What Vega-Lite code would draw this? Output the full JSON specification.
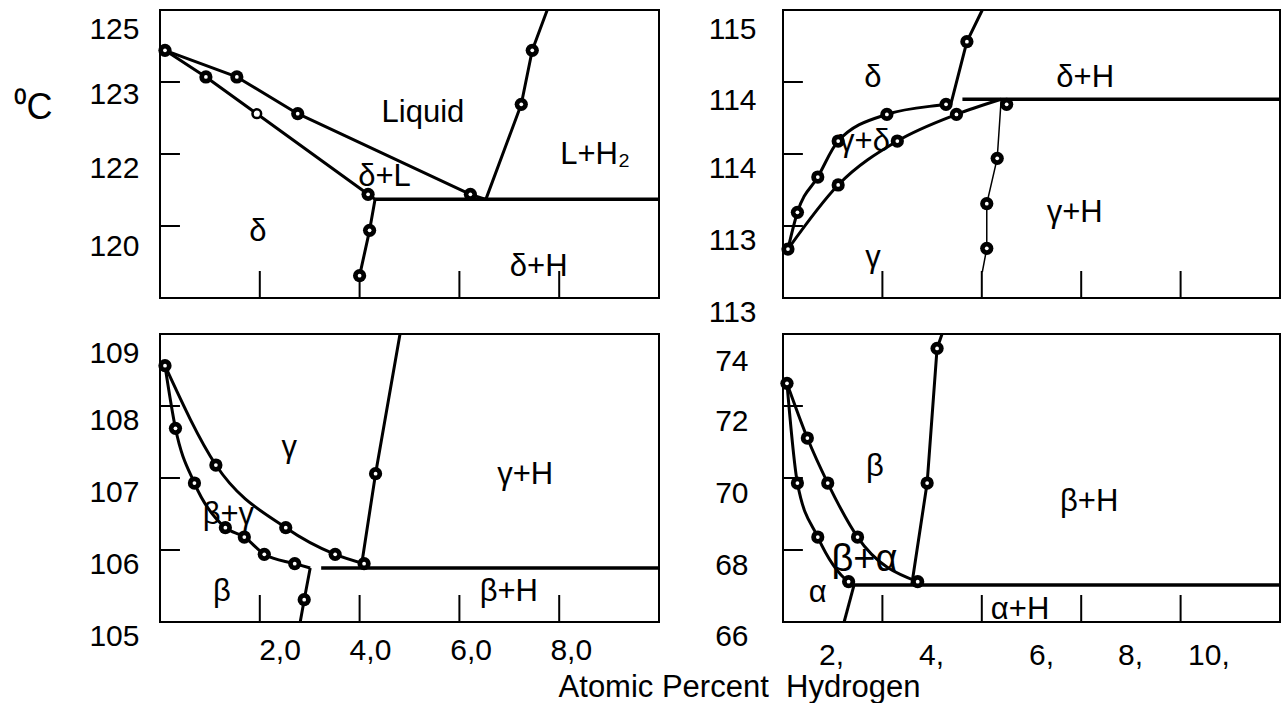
{
 "$schema": "https://vega.github.io/schema/vega-lite/v6.json",
 "background": "white",
 "padding": {"left": 12, "top": 7, "right": 0, "bottom": 0},
 "config": {
  "view": {"stroke": "black", "strokeWidth": 2},
  "font": "Liberation Sans",
  "axis": {"grid": false, "ticks": false, "tickSize": 0, "domain": false, "labelFont": "Liberation Sans", "labelFontSize": 30, "labelColor": "black", "labelOverlap": false, "labelFlush": false, "titleFont": "Liberation Sans", "titleColor": "black", "titleFontWeight": "normal"},
  "text": {"font": "Liberation Sans", "fontSize": 31, "color": "black"},
  "line": {"strokeJoin": "round", "strokeCap": "butt"}
 },
 "datasets": {
  "tl_ticks": [
   {"x": 2, "x2": 2, "y": 120, "y2": 120.375}, {"x": 4, "x2": 4, "y": 120, "y2": 120.375},
   {"x": 6, "x2": 6, "y": 120, "y2": 120.375}, {"x": 8, "x2": 8, "y": 120, "y2": 120.375},
   {"x": 0, "x2": 0.4, "y": 123, "y2": 123}, {"x": 0, "x2": 0.4, "y": 122, "y2": 122}, {"x": 0, "x2": 0.4, "y": 121, "y2": 121}
  ],
  "tl_thick": [{"id": "eutectic", "i": 1, "x": 4.31, "y": 121.37}, {"id": "eutectic", "i": 2, "x": 10, "y": 121.37}],
  "tl_lines": [
   {"id": "liquidus", "i": 1, "x": 0.10, "y": 123.44}, {"id": "liquidus", "i": 2, "x": 1.54, "y": 123.07},
   {"id": "liquidus", "i": 3, "x": 2.76, "y": 122.56}, {"id": "liquidus", "i": 4, "x": 6.22, "y": 121.44},
   {"id": "liquidus", "i": 5, "x": 6.53, "y": 121.37},
   {"id": "solidus", "i": 1, "x": 0.10, "y": 123.44}, {"id": "solidus", "i": 2, "x": 0.92, "y": 123.07},
   {"id": "solidus", "i": 3, "x": 1.94, "y": 122.56}, {"id": "solidus", "i": 4, "x": 4.17, "y": 121.44},
   {"id": "solidus", "i": 5, "x": 4.31, "y": 121.37},
   {"id": "solvus", "i": 1, "x": 4.31, "y": 121.37}, {"id": "solvus", "i": 2, "x": 4.20, "y": 120.94},
   {"id": "solvus", "i": 3, "x": 4.00, "y": 120.31},
   {"id": "h2", "i": 1, "x": 6.53, "y": 121.37}, {"id": "h2", "i": 2, "x": 7.24, "y": 122.69},
   {"id": "h2", "i": 3, "x": 7.46, "y": 123.44}, {"id": "h2", "i": 4, "x": 7.76, "y": 124.0}
  ],
  "tl_pts": [
   {"x": 0.10, "y": 123.44}, {"x": 1.54, "y": 123.07}, {"x": 2.76, "y": 122.56}, {"x": 6.22, "y": 121.44},
   {"x": 0.92, "y": 123.07}, {"x": 4.17, "y": 121.44}, {"x": 4.20, "y": 120.94}, {"x": 4.00, "y": 120.31},
   {"x": 7.24, "y": 122.69}, {"x": 7.46, "y": 123.44}
  ],
  "tl_open": [{"x": 1.94, "y": 122.56}],
  "tl_labels": [
   {"label": "Liquid", "x": 5.27, "y": 122.57}, {"label": "L+H₂", "x": 8.72, "y": 121.99},
   {"label": "δ+L", "x": 4.5, "y": 121.68}, {"label": "δ", "x": 1.96, "y": 120.92},
   {"label": "δ+H", "x": 7.59, "y": 120.43}
  ],
  "tr_ticks": [
   {"x": 2, "x2": 2, "y": 112, "y2": 112.375}, {"x": 4, "x2": 4, "y": 112, "y2": 112.375},
   {"x": 6, "x2": 6, "y": 112, "y2": 112.375}, {"x": 8, "x2": 8, "y": 112, "y2": 112.375},
   {"x": 0, "x2": 0.4, "y": 115, "y2": 115}, {"x": 0, "x2": 0.4, "y": 114, "y2": 114}, {"x": 0, "x2": 0.4, "y": 113, "y2": 113}
  ],
  "tr_thick": [{"id": "eutectoid", "i": 1, "x": 3.61, "y": 114.76}, {"id": "eutectoid", "i": 2, "x": 10, "y": 114.76}],
  "tr_curves": [
   {"id": "upper", "i": 1, "x": 0.10, "y": 112.68}, {"id": "upper", "i": 2, "x": 0.29, "y": 113.19},
   {"id": "upper", "i": 3, "x": 0.70, "y": 113.68}, {"id": "upper", "i": 4, "x": 1.11, "y": 114.18},
   {"id": "upper", "i": 5, "x": 2.09, "y": 114.55}, {"id": "upper", "i": 6, "x": 3.28, "y": 114.69},
   {"id": "upper", "i": 7, "x": 3.38, "y": 114.70},
   {"id": "lower", "i": 1, "x": 0.10, "y": 112.68}, {"id": "lower", "i": 2, "x": 1.11, "y": 113.57},
   {"id": "lower", "i": 3, "x": 2.30, "y": 114.18}, {"id": "lower", "i": 4, "x": 3.49, "y": 114.55},
   {"id": "lower", "i": 5, "x": 4.39, "y": 114.76}
  ],
  "tr_lines": [
   {"id": "delta", "i": 1, "x": 3.38, "y": 114.70}, {"id": "delta", "i": 2, "x": 3.70, "y": 115.56},
   {"id": "delta", "i": 3, "x": 4.01, "y": 116.0}
  ],
  "tr_thin": [
   {"id": "gamma", "i": 1, "x": 4.39, "y": 114.76}, {"id": "gamma", "i": 2, "x": 4.31, "y": 113.94},
   {"id": "gamma", "i": 3, "x": 4.10, "y": 113.31}, {"id": "gamma", "i": 4, "x": 4.10, "y": 112.69},
   {"id": "gamma", "i": 5, "x": 4.01, "y": 112.36}
  ],
  "tr_pts": [
   {"x": 0.10, "y": 112.68}, {"x": 0.29, "y": 113.19}, {"x": 0.70, "y": 113.68}, {"x": 1.11, "y": 114.18},
   {"x": 2.09, "y": 114.55}, {"x": 3.28, "y": 114.69}, {"x": 3.70, "y": 115.56}, {"x": 1.11, "y": 113.57},
   {"x": 2.30, "y": 114.18}, {"x": 3.49, "y": 114.55}, {"x": 4.50, "y": 114.69}, {"x": 4.31, "y": 113.94},
   {"x": 4.10, "y": 113.31}, {"x": 4.10, "y": 112.69}
  ],
  "tr_labels": [
   {"label": "δ", "x": 1.81, "y": 115.06}, {"label": "δ+H", "x": 6.08, "y": 115.06},
   {"label": "γ+δ", "x": 1.64, "y": 114.17}, {"label": "γ+H", "x": 5.87, "y": 113.18},
   {"label": "γ", "x": 1.81, "y": 112.56}
  ],
  "bl_ticks": [
   {"x": 2, "x2": 2, "y": 105, "y2": 105.375}, {"x": 4, "x2": 4, "y": 105, "y2": 105.375},
   {"x": 6, "x2": 6, "y": 105, "y2": 105.375}, {"x": 8, "x2": 8, "y": 105, "y2": 105.375},
   {"x": 0, "x2": 0.4, "y": 108, "y2": 108}, {"x": 0, "x2": 0.4, "y": 107, "y2": 107}, {"x": 0, "x2": 0.4, "y": 106, "y2": 106}
  ],
  "bl_thick": [{"id": "eutectoid", "i": 1, "x": 3.23, "y": 105.75}, {"id": "eutectoid", "i": 2, "x": 10, "y": 105.75}],
  "bl_curves": [
   {"id": "inner", "i": 1, "x": 0.10, "y": 108.56}, {"id": "inner", "i": 2, "x": 0.31, "y": 107.69},
   {"id": "inner", "i": 3, "x": 0.69, "y": 106.93}, {"id": "inner", "i": 4, "x": 1.31, "y": 106.31},
   {"id": "inner", "i": 5, "x": 1.69, "y": 106.18}, {"id": "inner", "i": 6, "x": 2.09, "y": 105.94},
   {"id": "inner", "i": 7, "x": 2.70, "y": 105.81}, {"id": "inner", "i": 8, "x": 3.01, "y": 105.75},
   {"id": "outer", "i": 1, "x": 0.10, "y": 108.56}, {"id": "outer", "i": 2, "x": 1.12, "y": 107.18},
   {"id": "outer", "i": 3, "x": 2.52, "y": 106.31}, {"id": "outer", "i": 4, "x": 3.51, "y": 105.94},
   {"id": "outer", "i": 5, "x": 4.09, "y": 105.81}
  ],
  "bl_lines": [
   {"id": "beta", "i": 1, "x": 3.01, "y": 105.75}, {"id": "beta", "i": 2, "x": 2.89, "y": 105.31},
   {"id": "beta", "i": 3, "x": 2.81, "y": 105.0},
   {"id": "gamma", "i": 1, "x": 4.03, "y": 105.75}, {"id": "gamma", "i": 2, "x": 4.32, "y": 107.06},
   {"id": "gamma", "i": 3, "x": 4.81, "y": 109.0}
  ],
  "bl_pts": [
   {"x": 0.10, "y": 108.56}, {"x": 0.31, "y": 107.69}, {"x": 0.69, "y": 106.93}, {"x": 1.31, "y": 106.31},
   {"x": 1.69, "y": 106.18}, {"x": 2.09, "y": 105.94}, {"x": 2.70, "y": 105.81}, {"x": 1.12, "y": 107.18},
   {"x": 2.52, "y": 106.31}, {"x": 3.51, "y": 105.94}, {"x": 4.09, "y": 105.81}, {"x": 2.89, "y": 105.31},
   {"x": 4.32, "y": 107.06}
  ],
  "bl_labels": [
   {"label": "γ", "x": 2.59, "y": 107.42}, {"label": "γ+H", "x": 7.32, "y": 107.04},
   {"label": "β+γ", "x": 1.37, "y": 106.49}, {"label": "β", "x": 1.24, "y": 105.42},
   {"label": "β+H", "x": 6.99, "y": 105.42}
  ],
  "br_ticks": [
   {"x": 2, "x2": 2, "y": 66, "y2": 66.75}, {"x": 4, "x2": 4, "y": 66, "y2": 66.75},
   {"x": 6, "x2": 6, "y": 66, "y2": 66.75}, {"x": 8, "x2": 8, "y": 66, "y2": 66.75},
   {"x": 0, "x2": 0.4, "y": 72, "y2": 72}, {"x": 0, "x2": 0.4, "y": 70, "y2": 70}, {"x": 0, "x2": 0.4, "y": 68, "y2": 68}
  ],
  "br_thick": [{"id": "eutectoid", "i": 1, "x": 1.43, "y": 67.03}, {"id": "eutectoid", "i": 2, "x": 10, "y": 67.03}],
  "br_curves": [
   {"id": "inner", "i": 1, "x": 0.08, "y": 72.63}, {"id": "inner", "i": 2, "x": 0.29, "y": 69.86},
   {"id": "inner", "i": 3, "x": 0.70, "y": 68.36}, {"id": "inner", "i": 4, "x": 1.32, "y": 67.12},
   {"id": "inner", "i": 5, "x": 1.43, "y": 67.03},
   {"id": "outer", "i": 1, "x": 0.08, "y": 72.63}, {"id": "outer", "i": 2, "x": 0.49, "y": 71.11},
   {"id": "outer", "i": 3, "x": 0.90, "y": 69.86}, {"id": "outer", "i": 4, "x": 1.50, "y": 68.36},
   {"id": "outer", "i": 5, "x": 2.71, "y": 67.12}
  ],
  "br_lines": [
   {"id": "alpha", "i": 1, "x": 1.43, "y": 67.03}, {"id": "alpha", "i": 2, "x": 1.23, "y": 66.0},
   {"id": "beta", "i": 1, "x": 2.59, "y": 67.03}, {"id": "beta", "i": 2, "x": 2.90, "y": 69.86},
   {"id": "beta", "i": 3, "x": 3.10, "y": 73.60}, {"id": "beta", "i": 4, "x": 3.20, "y": 74.0}
  ],
  "br_pts": [
   {"x": 0.08, "y": 72.63}, {"x": 0.29, "y": 69.86}, {"x": 0.70, "y": 68.36}, {"x": 1.32, "y": 67.12},
   {"x": 0.49, "y": 71.11}, {"x": 0.90, "y": 69.86}, {"x": 1.50, "y": 68.36}, {"x": 2.71, "y": 67.12},
   {"x": 2.90, "y": 69.86}, {"x": 3.10, "y": 73.60}
  ],
  "br_labels": [
   {"label": "β", "x": 1.85, "y": 70.31}, {"label": "β+H", "x": 6.16, "y": 69.34},
   {"label": "α", "x": 0.70, "y": 66.81}, {"label": "α+H", "x": 4.77, "y": 66.33}
  ],
  "br_big": [{"label": "β+α", "x": 1.64, "y": 67.72}]
 },
 "columns": 2,
 "spacing": {"row": 36, "column": 124},
 "bounds": "flush",
 "concat": [
  {
   "width": 499, "height": 288,
   "encoding": {
    "x": {"field": "x", "type": "quantitative", "scale": {"domain": [0, 10], "nice": false, "zero": false}, "axis": null},
    "y": {"field": "y", "type": "quantitative", "scale": {"domain": [120, 124], "nice": false, "zero": false},
     "axis": {"values": [123.965, 123.0625, 122.035, 120.951], "labelExpr": "datum.value > 123.5 ? '125' : datum.value > 122.5 ? '123' : datum.value > 121.5 ? '122' : '120'", "labelOffset": 17, "labelPadding": 21,
      "title": "⁰C", "titleAngle": 0, "titleAlign": "left", "titleBaseline": "alphabetic", "titleX": -147, "titleY": 108, "titleFontSize": 36}}
   },
   "layer": [
    {"data": {"name": "tl_ticks"}, "mark": {"type": "rule", "color": "black", "strokeWidth": 2}, "encoding": {"x2": {"field": "x2"}, "y2": {"field": "y2"}}},
    {"data": {"name": "tl_thick"}, "mark": {"type": "line", "color": "black", "strokeWidth": 3.5}, "encoding": {"detail": {"field": "id", "type": "nominal"}, "order": {"field": "i", "type": "quantitative"}}},
    {"data": {"name": "tl_lines"}, "mark": {"type": "line", "color": "black", "strokeWidth": 3}, "encoding": {"detail": {"field": "id", "type": "nominal"}, "order": {"field": "i", "type": "quantitative"}}},
    {"data": {"name": "tl_pts"}, "mark": {"type": "point", "shape": "circle", "filled": true, "color": "black", "size": 175, "opacity": 1}},
    {"data": {"name": "tl_pts"}, "mark": {"type": "point", "shape": "circle", "filled": true, "color": "white", "size": 14, "opacity": 1}},
    {"data": {"name": "tl_open"}, "mark": {"type": "point", "shape": "circle", "fill": "white", "stroke": "black", "strokeWidth": 2.5, "size": 75, "opacity": 1}},
    {"data": {"name": "tl_labels"}, "mark": {"type": "text"}, "encoding": {"text": {"field": "label", "type": "nominal"}}}
   ]
  },
  {
   "width": 497, "height": 288,
   "encoding": {
    "x": {"field": "x", "type": "quantitative", "scale": {"domain": [0, 10], "nice": false, "zero": false}, "axis": null},
    "y": {"field": "y", "type": "quantitative", "scale": {"domain": [112, 116], "nice": false, "zero": false},
     "axis": {"values": [115.965, 114.979, 114.035, 113.028, 112.035], "labelExpr": "datum.value > 115.5 ? '115' : datum.value > 113.5 ? '114' : '113'", "labelOffset": 17, "labelPadding": 27, "title": null}}
   },
   "layer": [
    {"data": {"name": "tr_ticks"}, "mark": {"type": "rule", "color": "black", "strokeWidth": 2}, "encoding": {"x2": {"field": "x2"}, "y2": {"field": "y2"}}},
    {"data": {"name": "tr_thick"}, "mark": {"type": "line", "color": "black", "strokeWidth": 3.5}, "encoding": {"detail": {"field": "id", "type": "nominal"}, "order": {"field": "i", "type": "quantitative"}}},
    {"data": {"name": "tr_lines"}, "mark": {"type": "line", "color": "black", "strokeWidth": 3}, "encoding": {"detail": {"field": "id", "type": "nominal"}, "order": {"field": "i", "type": "quantitative"}}},
    {"data": {"name": "tr_thin"}, "mark": {"type": "line", "color": "black", "strokeWidth": 1.5}, "encoding": {"detail": {"field": "id", "type": "nominal"}, "order": {"field": "i", "type": "quantitative"}}},
    {"data": {"name": "tr_curves"}, "mark": {"type": "line", "color": "black", "strokeWidth": 3, "interpolate": "monotone"}, "encoding": {"detail": {"field": "id", "type": "nominal"}, "order": {"field": "i", "type": "quantitative"}}},
    {"data": {"name": "tr_pts"}, "mark": {"type": "point", "shape": "circle", "filled": true, "color": "black", "size": 175, "opacity": 1}},
    {"data": {"name": "tr_pts"}, "mark": {"type": "point", "shape": "circle", "filled": true, "color": "white", "size": 14, "opacity": 1}},
    {"data": {"name": "tr_labels"}, "mark": {"type": "text"}, "encoding": {"text": {"field": "label", "type": "nominal"}}}
   ]
  },
  {
   "width": 499, "height": 288,
   "encoding": {
    "x": {"field": "x", "type": "quantitative", "scale": {"domain": [0, 10], "nice": false, "zero": false},
     "axis": {"values": [2.395, 4.208, 6.224, 8.232], "labelExpr": "datum.value < 3 ? '2,0' : datum.value < 5 ? '4,0' : datum.value < 7 ? '6,0' : '8,0'", "labelPadding": 13,
      "title": "Atomic Percent\u00a0 Hydrogen", "titleFontSize": 31, "titleX": 579, "titleY": 74, "titleAlign": "center", "titleBaseline": "alphabetic"}},
    "y": {"field": "y", "type": "quantitative", "scale": {"domain": [105, 109], "nice": false, "zero": false},
     "axis": {"values": [108.965, 108.035, 107.035, 106.035, 105.035], "labelExpr": "datum.value > 108.5 ? '109' : datum.value > 107.5 ? '108' : datum.value > 106.5 ? '107' : datum.value > 105.5 ? '106' : '105'", "labelOffset": 17, "labelPadding": 21, "title": null}}
   },
   "layer": [
    {"data": {"name": "bl_ticks"}, "mark": {"type": "rule", "color": "black", "strokeWidth": 2}, "encoding": {"x2": {"field": "x2"}, "y2": {"field": "y2"}}},
    {"data": {"name": "bl_thick"}, "mark": {"type": "line", "color": "black", "strokeWidth": 3.5}, "encoding": {"detail": {"field": "id", "type": "nominal"}, "order": {"field": "i", "type": "quantitative"}}},
    {"data": {"name": "bl_lines"}, "mark": {"type": "line", "color": "black", "strokeWidth": 3}, "encoding": {"detail": {"field": "id", "type": "nominal"}, "order": {"field": "i", "type": "quantitative"}}},
    {"data": {"name": "bl_curves"}, "mark": {"type": "line", "color": "black", "strokeWidth": 3, "interpolate": "monotone"}, "encoding": {"detail": {"field": "id", "type": "nominal"}, "order": {"field": "i", "type": "quantitative"}}},
    {"data": {"name": "bl_pts"}, "mark": {"type": "point", "shape": "circle", "filled": true, "color": "black", "size": 175, "opacity": 1}},
    {"data": {"name": "bl_pts"}, "mark": {"type": "point", "shape": "circle", "filled": true, "color": "white", "size": 14, "opacity": 1}},
    {"data": {"name": "bl_labels"}, "mark": {"type": "text"}, "encoding": {"text": {"field": "label", "type": "nominal"}}}
   ]
  },
  {
   "width": 497, "height": 288,
   "encoding": {
    "x": {"field": "x", "type": "quantitative", "scale": {"domain": [0, 10], "nice": false, "zero": false},
     "axis": {"values": [0.966, 2.978, 5.191, 6.982, 8.561], "labelExpr": "datum.value < 2 ? '2,' : datum.value < 4 ? '4,' : datum.value < 6 ? '6,' : datum.value < 7.5 ? '8,' : '10,'", "labelPadding": 18, "title": null}},
    "y": {"field": "y", "type": "quantitative", "scale": {"domain": [66, 74], "nice": false, "zero": false},
     "axis": {"values": [73.708, 72.042, 70.042, 68.042, 66.069], "labelExpr": "datum.value > 73 ? '74' : datum.value > 71 ? '72' : datum.value > 69 ? '70' : datum.value > 67 ? '68' : '66'", "labelOffset": 17, "labelPadding": 35, "title": null}}
   },
   "layer": [
    {"data": {"name": "br_ticks"}, "mark": {"type": "rule", "color": "black", "strokeWidth": 2}, "encoding": {"x2": {"field": "x2"}, "y2": {"field": "y2"}}},
    {"data": {"name": "br_thick"}, "mark": {"type": "line", "color": "black", "strokeWidth": 3.5}, "encoding": {"detail": {"field": "id", "type": "nominal"}, "order": {"field": "i", "type": "quantitative"}}},
    {"data": {"name": "br_lines"}, "mark": {"type": "line", "color": "black", "strokeWidth": 3}, "encoding": {"detail": {"field": "id", "type": "nominal"}, "order": {"field": "i", "type": "quantitative"}}},
    {"data": {"name": "br_curves"}, "mark": {"type": "line", "color": "black", "strokeWidth": 3, "interpolate": "monotone"}, "encoding": {"detail": {"field": "id", "type": "nominal"}, "order": {"field": "i", "type": "quantitative"}}},
    {"data": {"name": "br_pts"}, "mark": {"type": "point", "shape": "circle", "filled": true, "color": "black", "size": 175, "opacity": 1}},
    {"data": {"name": "br_pts"}, "mark": {"type": "point", "shape": "circle", "filled": true, "color": "white", "size": 14, "opacity": 1}},
    {"data": {"name": "br_labels"}, "mark": {"type": "text"}, "encoding": {"text": {"field": "label", "type": "nominal"}}},
    {"data": {"name": "br_big"}, "mark": {"type": "text", "fontSize": 38}, "encoding": {"text": {"field": "label", "type": "nominal"}}}
   ]
  }
 ]
}
